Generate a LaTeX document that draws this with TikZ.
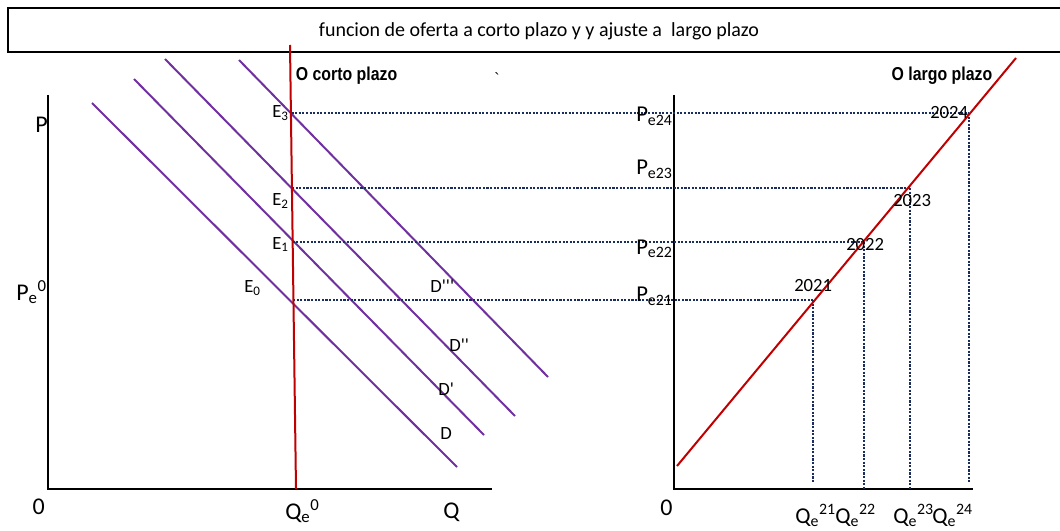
\documentclass[tikz,border=0pt]{standalone}
\usepackage{fontspec}
\setmainfont{Carlito}
\newfontfamily\arialfont{Liberation Sans}
\definecolor{demandcol}{RGB}{112,48,160}
\definecolor{supplycol}{RGB}{192,0,0}
\definecolor{guidecol}{RGB}{25,45,95}
\tikzset{
  axis/.style={line width=2.2pt},
  demand/.style={demandcol, line width=1.5pt},
  supply/.style={supplycol, line width=1.5pt},
  guide/.style={guidecol, line width=1.8pt, dash pattern=on 1.6pt off 1.1pt},
  lbl/.style={inner sep=0pt, anchor=base west, font=\fontsize{14}{16}\selectfont},
  axlbl/.style={inner sep=0pt, anchor=base west, font=\fontsize{18}{20}\selectfont},
  eqlbl/.style={inner sep=0pt, anchor=base west, font=\fontsize{17}{19}\selectfont},
  curvename/.style={inner sep=0pt, anchor=base west, xscale=0.85, transform shape,
    font=\arialfont\bfseries\fontsize{14}{16}\selectfont},
}
\newcommand{\pr}{\textquotesingle}

\begin{document}
\begin{tikzpicture}[x=0.75pt,y=-0.75pt]
\useasboundingbox (0,0) rectangle (1060,531);

% title
\draw[line width=1.2pt] (1061,8) -- (8,8) -- (8,52) -- (1061,52);
\node[inner sep=0pt, anchor=base, font=\fontsize{15}{17}\selectfont] (title) at (539,36.5)
  {funcion de oferta a corto plazo y y ajuste a\ \ largo plazo};

% left panel
\coordinate (P1) at (48,95);
\coordinate (O1) at (48,489);
\coordinate (Q1) at (492,489);
\draw[axis] (P1) -- (O1) -- (Q1);

\coordinate (D0a) at (92,103);  \coordinate (D0b) at (457,467);
\coordinate (D1a) at (134,79);  \coordinate (D1b) at (484,435);
\coordinate (D2a) at (165,59);  \coordinate (D2b) at (515,416);
\coordinate (D3a) at (239,60);  \coordinate (D3b) at (548,377);
\draw[demand] (D0a) -- (D0b);
\draw[demand] (D1a) -- (D1b);
\draw[demand] (D2a) -- (D2b);
\draw[demand] (D3a) -- (D3b);

\coordinate (SRa) at (290,45);
\coordinate (SRb) at (296,489);

\coordinate (E3) at (291.5,113);
\coordinate (E2) at (292,188);
\coordinate (E1) at (292.5,242);
\coordinate (E0) at (293,300);

% right panel
\coordinate (P2) at (674,95);
\coordinate (O2) at (674,489);
\coordinate (Q2) at (973,489);
\draw[axis] (P2) -- (O2) -- (Q2);

\coordinate (L21) at (813,300);
\coordinate (L22) at (864,242);
\coordinate (L23) at (910,188);
\coordinate (L24) at (969,113);
\coordinate (B21) at (813,482);
\coordinate (B22) at (864,489);
\coordinate (B23) at (910,489);
\coordinate (B24) at (969,482);

\draw[guide] (E3) -- (L24);
\draw[guide] (E2) -- (L23);
\draw[guide] (E1) -- (L22);
\draw[guide] (E0) -- (L21);
\draw[guide] (L21) -- (B21);
\draw[guide] (L22) -- (B22);
\draw[guide] (L23) -- (B23);
\draw[guide] (L24) -- (B24);

\coordinate (LRa) at (677,466);
\coordinate (LRb) at (1016,58);
\draw[supply] (SRa) -- (SRb);
\draw[supply] (LRa) -- (LRb);

% labels
\node[axlbl] (p) at (35,133) {P};
\node[axlbl] (pe0) at (16,300) {P\textsubscript{e}\textsuperscript{0}};
\node[axlbl] (zero1) at (32.3,514.3) {0};
\node[axlbl] (qe0) at (285,519) {Q\textsubscript{e}\textsuperscript{0}};
\node[axlbl] (q) at (443,518) {Q};

\node[lbl] (e3) at (272,117.3) {E\textsubscript{3}};
\node[lbl] (e2) at (272,205.7) {E\textsubscript{2}};
\node[lbl] (e1) at (272,249) {E\textsubscript{1}};
\node[lbl] (e0) at (244,292.3) {E\textsubscript{0}};

\node[lbl] (d3) at (430,292) {D\pr\pr\pr};
\node[lbl] (d2) at (449,351.7) {D\pr\pr};
\node[lbl] (d1) at (438,395.7) {D\pr};
\node[lbl] (d0) at (440,439.3) {D};

\node[curvename] (short) at (295.6,81) {O corto plazo};
\node[inner sep=0pt, font=\arialfont\fontsize{12}{14}\selectfont] (tick) at (497,79) {`};
\node[curvename] (long) at (891.5,81) {O largo plazo};

\node[eqlbl] (pe24) at (636,121.7) {P\textsubscript{e24}};
\node[eqlbl] (pe23) at (636,175) {P\textsubscript{e23}};
\node[eqlbl] (pe22) at (636,254) {P\textsubscript{e22}};
\node[eqlbl] (pe21) at (636,301.7) {P\textsubscript{e21}};

\node[lbl] (y21) at (794,291.7) {2021};
\node[lbl] (y22) at (846,250.7) {2022};
\node[lbl] (y23) at (893,206.8) {2023};
\node[lbl] (y24) at (930,118.2) {2024};

\node[axlbl] (zero2) at (660,515) {0};
\node[eqlbl] (qe21) at (795,523) {Q\textsubscript{e}\textsuperscript{21}};
\node[eqlbl] (qe22) at (835,523) {Q\textsubscript{e}\textsuperscript{22}};
\node[eqlbl] (qe23) at (893,523) {Q\textsubscript{e}\textsuperscript{23}};
\node[eqlbl] (qe24) at (932,523) {Q\textsubscript{e}\textsuperscript{24}};
\end{tikzpicture}
\end{document}
